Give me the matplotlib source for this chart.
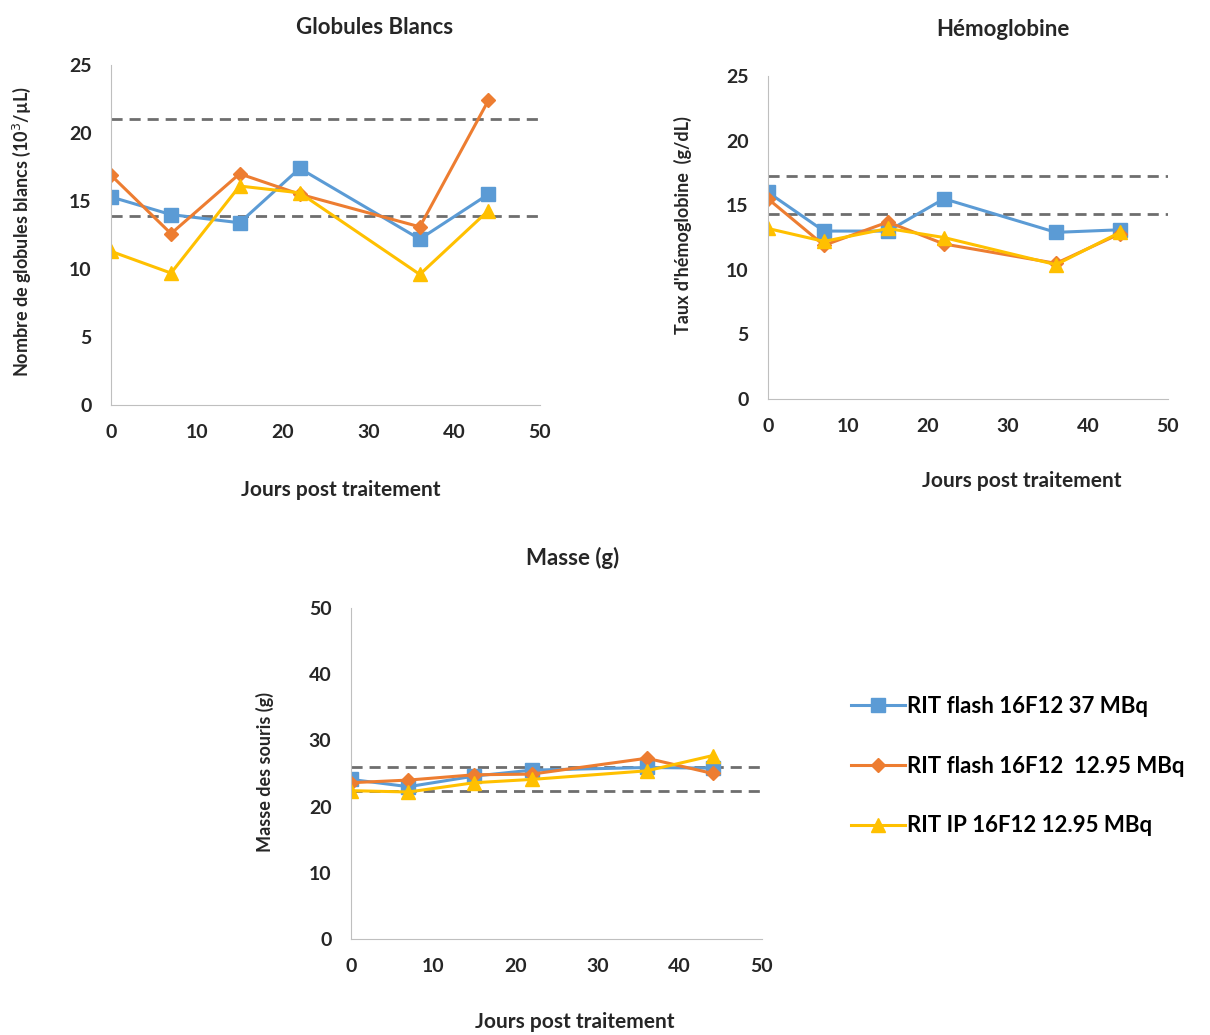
import matplotlib.pyplot as plt

plt.rcParams['font.family'] = ['Lato', 'DejaVu Sans']

jours = [0, 7, 15, 22, 36, 44]
series_labels = ["RIT flash 16F12 37 MBq", "RIT flash 16F12  12.95 MBq", "RIT IP 16F12 12.95 MBq"]

# Globules blancs (10^3/uL)
gb_flash37 = [15.3, 14.0, 13.4, 17.4, 12.2, 15.5]
gb_flash1295 = [16.9, 12.6, 17.0, 15.5, 13.1, 22.4]
gb_ip1295 = [11.3, 9.7, 16.1, 15.6, 9.6, 14.3]
gb_limits = [21.0, 13.9]

# Hemoglobine (g/dL)
hb_flash37 = [16.0, 13.0, 13.0, 15.5, 12.9, 13.1]
hb_flash1295 = [15.5, 11.9, 13.7, 12.0, 10.5, 12.8]
hb_ip1295 = [13.2, 12.2, 13.2, 12.5, 10.4, 12.9]
hb_limits = [17.3, 14.3]

# Masse (g)
m_flash37 = [24.1, 23.0, 24.6, 25.5, 25.9, 25.8]
m_flash1295 = [23.6, 24.0, 24.8, 24.9, 27.3, 25.0]
m_ip1295 = [22.4, 22.2, 23.6, 24.1, 25.4, 27.7]
m_limits = [25.9, 22.3]

colors = ['#5B9BD5', '#ED7D31', '#FFC000']
markers = ['s', 'D', '^']
msizes = [10, 7, 10]
text_col = '#262626'

W, H = 1210, 1035
fig = plt.figure(figsize=(W / 100, H / 100), dpi=100)
ax1 = fig.add_axes([0.0917, 0.6087, 0.3545, 0.3285])
ax2 = fig.add_axes([0.6347, 0.6145, 0.3306, 0.3120])
ax3 = fig.add_axes([0.2900, 0.0928, 0.3397, 0.3198])


def ftext(x, y, s, **kw):
    # place text in figure pixel coords (from top-left)
    fig.text(x / W, 1 - y / H, s, ha='center', va='center', color=text_col,
             fontweight='bold', **kw)


def draw(ax, data, limits, ymax, ystep):
    for ys, c, m, ms, lab in zip(data, colors, markers, msizes, series_labels):
        ax.plot(jours, ys, color=c, marker=m, markersize=ms, lw=2.2, label=lab)
    for lim in limits:
        ax.axhline(lim, color='#6E6E6E', lw=2, ls=(0, (4, 2.5)), zorder=1)
    ax.set_xlim(0, 50)
    ax.set_ylim(0, ymax)
    ax.set_xticks(range(0, 51, 10))
    ax.set_yticks(range(0, ymax + 1, ystep))
    for s in ['top', 'right']:
        ax.spines[s].set_visible(False)
    for s in ['left', 'bottom']:
        ax.spines[s].set_color('#BFBFBF')
    ax.tick_params(length=0, labelsize=14, colors=text_col, pad=14)
    for t in ax.get_xticklabels() + ax.get_yticklabels():
        t.set_fontweight('bold')


draw(ax1, [gb_flash37, gb_flash1295, gb_ip1295], gb_limits, 25, 5)
draw(ax2, [hb_flash37, hb_flash1295, hb_ip1295], hb_limits, 25, 5)
draw(ax3, [m_flash37, m_flash1295, m_ip1295], m_limits, 50, 10)

ftext(375, 27, "Globules Blancs", fontsize=16)
ftext(1003, 30, "Hémoglobine", fontsize=16)
ftext(573, 558, "Masse (g)", fontsize=16)

ftext(341, 490, "Jours post traitement", fontsize=15)
ftext(1022, 481, "Jours post traitement", fontsize=15)
ftext(575, 1022, "Jours post traitement", fontsize=15)

ftext(22, 232, "Nombre de globules blancs (10$^3$/µL)", fontsize=13, rotation=90)
ftext(683, 225, "Taux d'hémoglobine  (g/dL)", fontsize=13, rotation=90)
ftext(265, 772, "Masse des souris (g)", fontsize=13, rotation=90)

handles, labels = ax3.get_legend_handles_labels()
fig.legend(handles, labels, loc='center left', bbox_to_anchor=(0.687, 1 - 766 / H),
           frameon=False, labelspacing=1.75, handlelength=2.4,
           handletextpad=0.1, prop={'weight': 'bold', 'size': 16})

fig.savefig('out.png', dpi=100)
